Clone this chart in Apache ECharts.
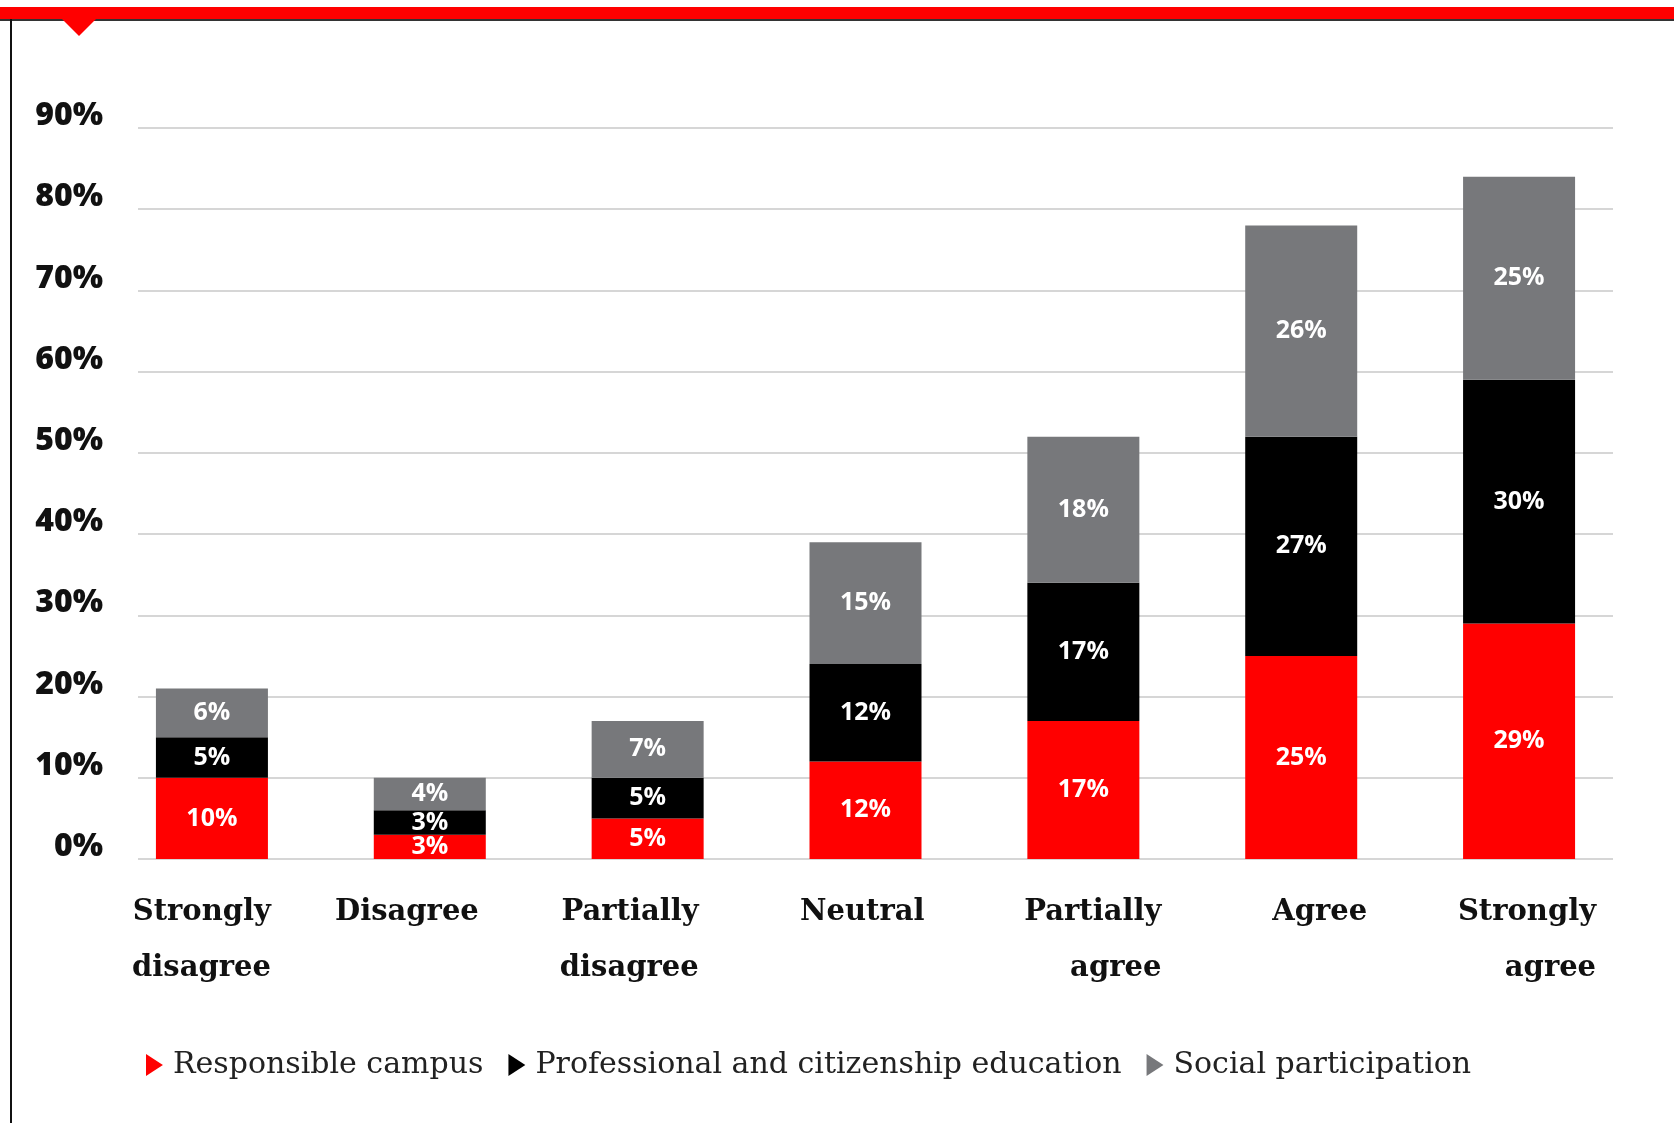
<!DOCTYPE html>
<html>
<head>
<meta charset="utf-8">
<style>
  html, body { margin: 0; padding: 0; background: #fff; }
  #chart { width: 1674px; height: 1123px; }
</style>
<script src="https://cdn.jsdelivr.net/npm/echarts@6/dist/echarts.min.js"></script>
</head>
<body>
<div id="chart"></div>
<script>
// data
var categories = ['Strongly\ndisagree', 'Disagree', 'Partially\ndisagree', 'Neutral', 'Partially\nagree', 'Agree', 'Strongly\nagree'];
var seriesNames = ['Responsible campus', 'Professional and citizenship education', 'Social participation'];
var campus = [10, 3, 5, 12, 17, 25, 29];
var education = [5, 3, 5, 12, 17, 27, 30];
var participation = [6, 4, 7, 15, 18, 26, 25];
var yMax = 90;
var yStep = 10;

// label boxes: category labels are right aligned, box width sets where the right edge lands
var labelBoxWidths = [118, 98, 102, 118, 156, 132, 154];
var colors = ['#ff0000', '#000000', '#77787b'];

var rich = {};
labelBoxWidths.forEach(function (w, i) {
	rich['c' + i] = {
		width: w,
		align: 'right',
		lineHeight: 56,
		fontFamily: 'DejaVu Serif',
		fontWeight: 'bold',
		fontSize: 29,
		color: '#111'
	};
});

var barLabel = {
	show: true,
	position: 'inside',
	color: '#fff',
	fontFamily: 'Open Sans',
	fontWeight: 'bold',
	fontSize: 25,
	formatter: '{c}%'
};

function makeSeries(name, values, color) {
	return {
		name: name,
		type: 'bar',
		stack: 'total',
		xAxisIndex: 1,
		yAxisIndex: 1,
		barWidth: 112,
		itemStyle: { color: color },
		label: barLabel,
		data: values
	};
}

var chart = echarts.init(document.getElementById('chart'));
chart.setOption({
	backgroundColor: '#fff',
	animation: false,
	color: colors,
	grid: [{
		left: 138,
		right: 61,
		top: 128,
		bottom: 264
	}, {
		left: 103,
		right: 46,
		top: 128,
		bottom: 264
	}],
	xAxis: [{
		gridIndex: 0,
		type: 'value',
		show: false
	}, {
		gridIndex: 1,
		type: 'category',
		data: categories,
		axisLine: { show: false },
		axisTick: { show: false },
		axisLabel: {
			interval: 0,
			margin: 25,
			align: 'center',
			formatter: function (value, idx) {
				return value.split('\n').map(function (s) {
					return '{c' + idx + '|' + s + '}';
				}).join('\n');
			},
			rich: rich
		}
	}],
	yAxis: [{
		gridIndex: 0,
		type: 'value',
		min: 0,
		max: yMax,
		interval: yStep,
		axisLine: { show: false },
		axisTick: { show: false },
		splitLine: {
			lineStyle: {
				color: '#d6d6d6',
				width: 2
			}
		},
		axisLabel: {
			margin: 35,
			formatter: '{value}%',
			fontFamily: 'Open Sans',
			fontWeight: 800,
			fontSize: 32,
			color: '#111',
			verticalAlign: 'bottom',
			lineHeight: 24
		}
	}, {
		gridIndex: 1,
		type: 'value',
		min: 0,
		max: yMax,
		interval: yStep,
		show: false
	}],
	legend: {
		left: 141,
		top: 1045,
		itemWidth: 17,
		itemHeight: 22,
		itemGap: 25,
		icon: 'path://M0,0 L10,6.5 L0,13 Z',
		textStyle: {
			fontFamily: 'DejaVu Serif',
			fontSize: 30,
			color: '#222',
			padding: [0, 0, 0, 5]
		},
		data: seriesNames
	},
	graphic: [{
		type: 'rect',
		shape: { x: 0, y: 7, width: 1674, height: 12 },
		style: { fill: '#ff0000' }
	}, {
		type: 'rect',
		shape: { x: 0, y: 19, width: 1674, height: 2 },
		style: { fill: '#333' }
	}, {
		type: 'rect',
		shape: { x: 10, y: 19, width: 2, height: 1104 },
		style: { fill: '#111' }
	}, {
		type: 'polygon',
		shape: { points: [[62, 19], [96, 19], [79, 36]] },
		style: { fill: '#ff0000' }
	}],
	series: [
		makeSeries(seriesNames[0], campus, colors[0]),
		makeSeries(seriesNames[1], education, colors[1]),
		makeSeries(seriesNames[2], participation, colors[2])
	]
});
</script>
</body>
</html>
